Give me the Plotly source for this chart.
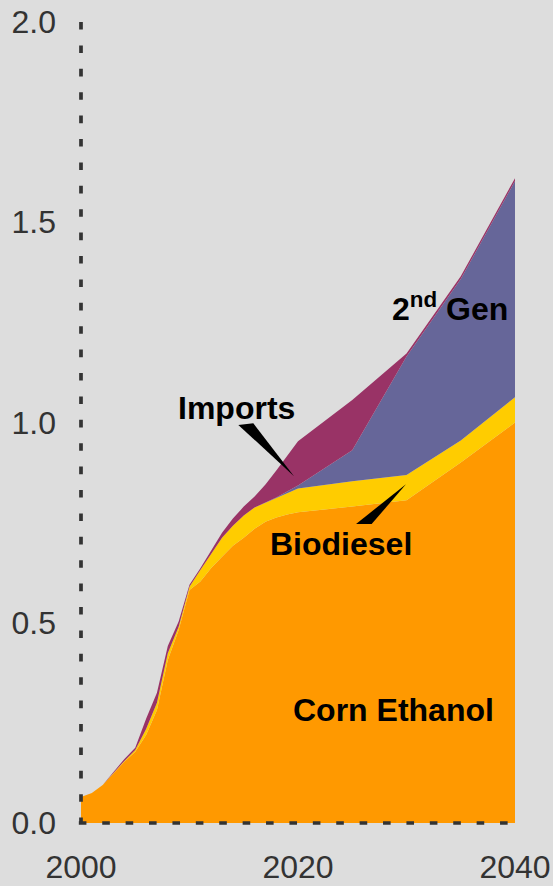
import plotly.graph_objects as go

# Biofuel supply by source, stacked (billion barrels per year scale)
years = [2000, 2001, 2002, 2003, 2004, 2005, 2006, 2007, 2008, 2009, 2010,
         2011, 2012, 2013, 2014, 2015, 2016, 2017, 2018, 2019, 2020,
         2025, 2030, 2035, 2040]

corn_ethanol = [0.065, 0.075, 0.095, 0.125, 0.153, 0.178, 0.220, 0.282, 0.407, 0.482, 0.582,
                0.603, 0.637, 0.665, 0.692, 0.712, 0.735, 0.752, 0.763, 0.770, 0.776,
                0.790, 0.806, 0.900, 1.000]

biodiesel = [0.000, 0.000, 0.000, 0.000, 0.002, 0.004, 0.015, 0.018, 0.017, 0.008, 0.008,
             0.029, 0.035, 0.047, 0.050, 0.056, 0.053, 0.048, 0.049, 0.055, 0.059,
             0.063, 0.063, 0.055, 0.063]

second_gen = [0.000, 0.000, 0.000, 0.000, 0.000, 0.000, 0.000, 0.000, 0.000, 0.000, 0.000,
              0.000, 0.000, 0.000, 0.000, 0.000, 0.000, 0.000, 0.001, 0.003, 0.008,
              0.078, 0.296, 0.403, 0.540]

imports = [0.000, 0.000, 0.000, 0.003, 0.005, 0.006, 0.025, 0.025, 0.018, 0.013, 0.005,
           0.004, 0.008, 0.013, 0.018, 0.022, 0.027, 0.045, 0.067, 0.090, 0.110,
           0.125, 0.007, 0.007, 0.007]

x_ticks = [2000, 2020, 2040]
y_ticks = [0.0, 0.5, 1.0, 1.5, 2.0]
y_tick_text = ["0.0", "0.5", "1.0", "1.5", "2.0"]

series = [
    ("Corn Ethanol", corn_ethanol, "#FF9900"),
    ("Biodiesel", biodiesel, "#FFCC00"),
    ("2nd Gen", second_gen, "#666699"),
    ("Imports", imports, "#993366"),
]

BG = "#DDDDDD"
AXIS = "#333333"
FONT = "Liberation Sans, Arial, sans-serif"

fig = go.Figure()
for name, vals, color in series:
    fig.add_trace(go.Scatter(
        x=years, y=vals, name=name, mode="lines",
        stackgroup="one", line=dict(width=0, color=color),
        fillcolor=color, hoverinfo="skip",
    ))

# dotted axis lines
fig.add_shape(type="line", xref="paper", yref="paper", x0=0, x1=0, y0=1.0, y1=0,
              line=dict(color=AXIS, width=3.7, dash="7.6px,15.8px"), layer="above")
fig.add_shape(type="line", xref="paper", yref="paper", x0=-0.005, x1=1.0, y0=0, y1=0,
              line=dict(color=AXIS, width=3.7, dash="7.6px,15.8px"), layer="above")

# callout wedges
fig.add_shape(type="path", xref="x", yref="y",
              path="M 2014.5,0.994 L 2015.88,0.998 L 2019.63,0.866 Z",
              fillcolor="black", line=dict(width=0), layer="above")
fig.add_shape(type="path", xref="x", yref="y",
              path="M 2025.35,0.7466 L 2026.79,0.7466 L 2029.95,0.8457 Z",
              fillcolor="black", line=dict(width=0), layer="above")

label_font = dict(family=FONT, size=32, color="black")
labels = [
    ("<b>Imports</b>", 2014.35, 1.036),
    ("<b>Biodiesel</b>", 2023.96, 0.697),
    ("<b>2<sup>nd</sup> Gen</b>", 2034.0, 1.288),
    ("<b>Corn Ethanol</b>", 2028.76, 0.282),
]
for text, x, y in labels:
    fig.add_annotation(x=x, y=y, xref="x", yref="y", text=text, showarrow=False,
                       font=label_font, xanchor="center", yanchor="middle")

fig.update_layout(
    width=553, height=886,
    margin=dict(l=81, r=38, t=22, b=63, autoexpand=False),
    paper_bgcolor=BG, plot_bgcolor=BG,
    showlegend=False,
    font=dict(family=FONT, color=AXIS),
    xaxis=dict(range=[2000, 2040], tickvals=x_ticks, showgrid=False, zeroline=False,
               showline=False, ticks="", tickfont=dict(size=32, color=AXIS),
               ticklabelstandoff=22, automargin=False, fixedrange=True),
    yaxis=dict(range=[0, 2.0], tickvals=y_ticks, ticktext=y_tick_text, showgrid=False,
               zeroline=False, showline=False, ticks="", tickfont=dict(size=32, color=AXIS),
               ticklabelstandoff=24, automargin=False, fixedrange=True),
)

fig.write_html("out.html")
